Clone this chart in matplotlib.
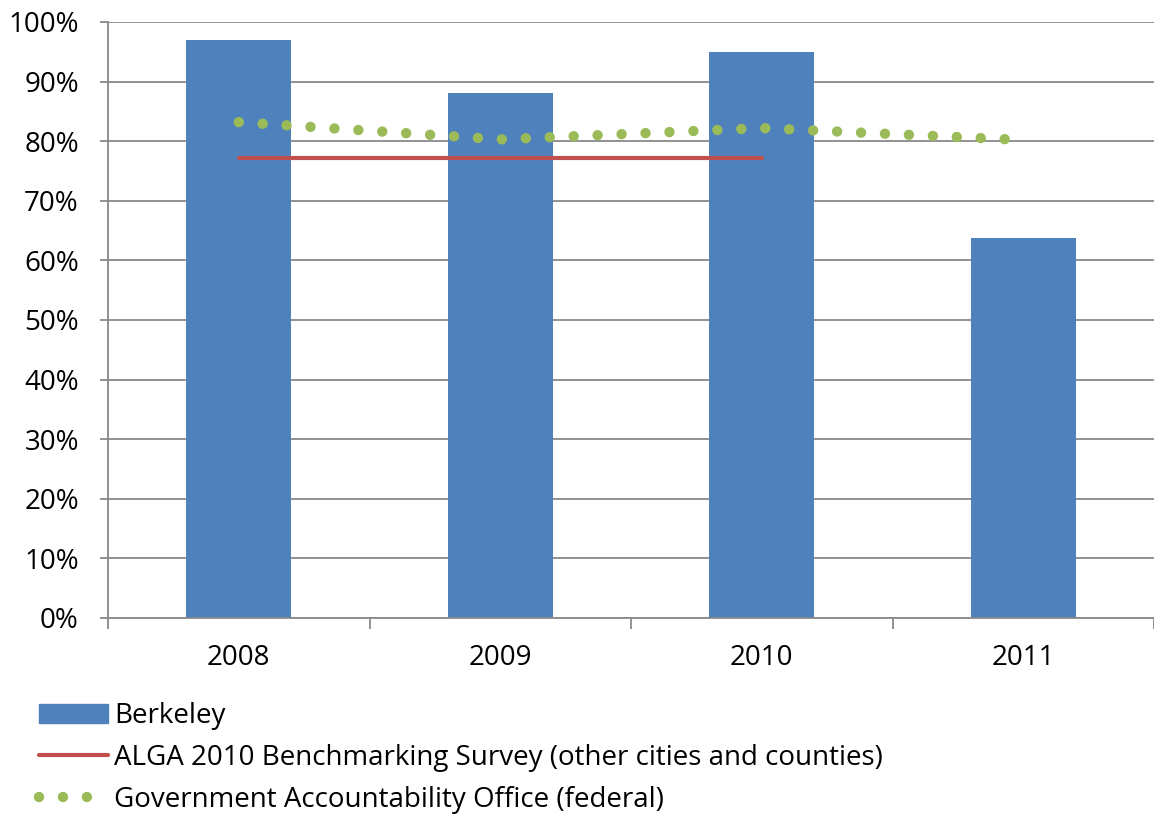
import numpy as np
import matplotlib
matplotlib.use("Agg")
import matplotlib.pyplot as plt
from matplotlib.patches import Patch
from matplotlib.lines import Line2D

# -----------------------------
# Data
# -----------------------------
years = ["2008", "2009", "2010", "2011"]
berkeley = [97.0, 88.1, 95.0, 63.8]
alga = [77.2, 77.2, 77.2]          # 2008-2010 only
gao = [83.2, 80.3, 82.2, 80.2]

labels = [
    "Berkeley",
    "ALGA 2010 Benchmarking Survey (other cities and counties)",
    "Government Accountability Office (federal)",
]

blue = "#4F81BD"
red = "#C0504D"
green = "#9BBB59"
grid_gray = "#898989"

plt.rcParams["font.family"] = ["Open Sans", "DejaVu Sans"]

# -----------------------------
# Figure
# -----------------------------
fig = plt.figure(figsize=(11.54, 8.14), dpi=100)
ax = fig.add_axes([108 / 1154, 1 - 618 / 814, 1 - 108 / 1154, (618 - 22) / 814])

dots = (0, (0.001, 2.3))

x = np.arange(len(years))
ax.bar(x, berkeley, width=0.4, color=blue, zorder=2)
ax.plot(x[:len(alga)], alga, color=red, lw=3, solid_capstyle="round", zorder=3)
ax.plot(x, gao, color=green, lw=7.5, linestyle=dots,
        dash_capstyle="round", zorder=3)

ax.set_xlim(-0.5, 3.5)
ax.set_ylim(0, 100)
ax.set_yticks(np.arange(0, 101, 10))
ax.set_yticklabels([f"{v}%" for v in range(0, 101, 10)])
ax.yaxis.grid(True, color=grid_gray, lw=1.3, zorder=0)
ax.set_axisbelow(True)

ax.set_xticks(x)
ax.set_xticklabels(years)
ax.set_xticks(np.arange(-0.5, 3.6, 1), minor=True)
ax.tick_params(axis="x", which="major", length=0, pad=19, labelsize=20)
ax.tick_params(axis="x", which="minor", length=8, color=grid_gray, width=1.3)
ax.tick_params(axis="y", length=6, color=grid_gray, width=1.3, pad=15, labelsize=20)

for side in ["top", "right"]:
    ax.spines[side].set_visible(False)
for side in ["left", "bottom"]:
    ax.spines[side].set_color(grid_gray)
    ax.spines[side].set_linewidth(1.3)

# -----------------------------
# Legend
# -----------------------------
handles = [
    Patch(color=blue),
    Line2D([], [], color=red, lw=3, solid_capstyle="round"),
    Line2D([], [], color=green, lw=7.5, linestyle=dots, dash_capstyle="round"),
]
fig.legend(handles, labels, loc="upper left", bbox_to_anchor=(14 / 1154, 1 - 677 / 814),
           frameon=False, fontsize=20, handlelength=2.5, handletextpad=0.2,
           labelspacing=0.5, handleheight=0.65)

plt.savefig("out.png", dpi=100)
